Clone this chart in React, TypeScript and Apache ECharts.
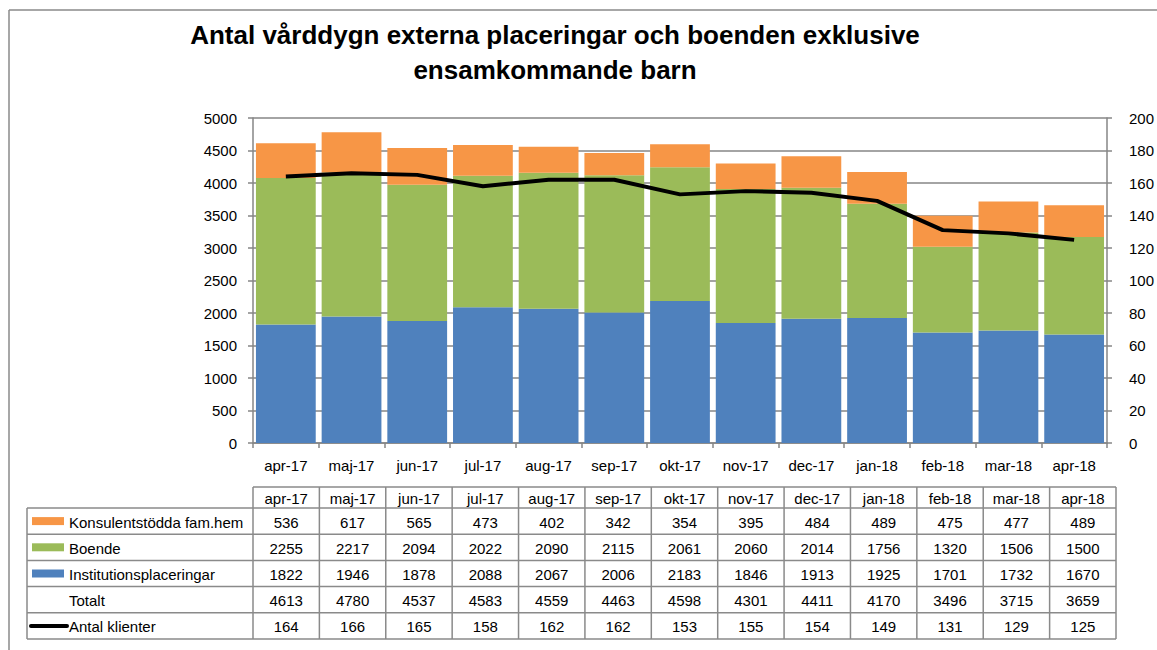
import React, { useEffect, useRef } from "react";
import * as echarts from "echarts";

const categories = ["apr-17", "maj-17", "jun-17", "jul-17", "aug-17", "sep-17", "okt-17", "nov-17", "dec-17", "jan-18", "feb-18", "mar-18", "apr-18"];
const konsulent = [536, 617, 565, 473, 402, 342, 354, 395, 484, 489, 475, 477, 489];
const boende = [2255, 2217, 2094, 2022, 2090, 2115, 2061, 2060, 2014, 1756, 1320, 1506, 1500];
const institution = [1822, 1946, 1878, 2088, 2067, 2006, 2183, 1846, 1913, 1925, 1701, 1732, 1670];
const totalt = [4613, 4780, 4537, 4583, 4559, 4463, 4598, 4301, 4411, 4170, 3496, 3715, 3659];
const klienter = [164, 166, 165, 158, 162, 162, 153, 155, 154, 149, 131, 129, 125];

const titleLines = ["Antal vårddygn externa placeringar och boenden exklusive", "ensamkommande barn"];
const seriesNames = ["Konsulentstödda fam.hem", "Boende", "Institutionsplaceringar", "Totalt", "Antal klienter"];

const C_ORANGE = "#F79646";
const C_GREEN = "#9BBB59";
const C_BLUE = "#4F81BD";
const AXIS = "#868686";
const FONT = "'Liberation Sans', Arial, sans-serif";

export default function App() {
  const ref = useRef<HTMLDivElement>(null);
  useEffect(() => {
    if (!ref.current) return;
    const chart = echarts.init(ref.current, null, { renderer: "svg" });
    const gridLeft = 253;
    const gridRight = 1116;
    const gridTop = 118;
    const gridBottom = 443;
    const colW = (gridRight - gridLeft) / categories.length;
    const tableLeft = 27;
    const headerTop = 487;
    const rowH = 26.2;
    const rowsTop = headerTop + 21;

    const g: any[] = [];
    g.push({ type: "line", shape: { x1: 9, y1: 10, x2: 1157, y2: 10 }, style: { stroke: "#8a8a8a", lineWidth: 1.5 } });
    g.push({ type: "line", shape: { x1: 9, y1: 10, x2: 9, y2: 650 }, style: { stroke: "#8a8a8a", lineWidth: 1.5 } });
    titleLines.forEach((t, i) => {
      g.push({
        type: "text",
        x: 555,
        y: 35 + i * 35,
        style: { text: t, fontSize: 26, fontWeight: "bold", fontFamily: FONT, fill: "#000", align: "center", verticalAlign: "middle" },
      });
    });
    const lineStyle = { stroke: "#8a8a8a", lineWidth: 1.5 };
    const nRows = seriesNames.length;
    const tableBottom = rowsTop + nRows * rowH;
    g.push({ type: "line", shape: { x1: gridLeft, y1: headerTop, x2: gridRight, y2: headerTop }, style: lineStyle });
    for (let r = 0; r <= nRows; r++) {
      const y = rowsTop + r * rowH;
      g.push({ type: "line", shape: { x1: tableLeft, y1: y, x2: gridRight, y2: y }, style: lineStyle });
    }
    g.push({ type: "line", shape: { x1: tableLeft, y1: rowsTop, x2: tableLeft, y2: tableBottom }, style: lineStyle });
    for (let c = 0; c <= categories.length; c++) {
      const x = gridLeft + c * colW;
      g.push({ type: "line", shape: { x1: x, y1: headerTop, x2: x, y2: tableBottom }, style: lineStyle });
    }
    categories.forEach((cat, c) => {
      g.push({
        type: "text",
        x: gridLeft + (c + 0.5) * colW,
        y: (headerTop + rowsTop) / 2 + 1,
        style: { text: cat, fontSize: 15, fontFamily: FONT, fill: "#000", align: "center", verticalAlign: "middle" },
      });
    });
    const rowData = [konsulent, boende, institution, totalt, klienter];
    const swatch = [C_ORANGE, C_GREEN, C_BLUE, null, "line"];
    rowData.forEach((arr, r) => {
      const cy = rowsTop + (r + 0.5) * rowH + 1;
      g.push({
        type: "text",
        x: 69,
        y: cy,
        style: { text: seriesNames[r], fontSize: 15, fontFamily: FONT, fill: "#000", align: "left", verticalAlign: "middle" },
      });
      const sw = swatch[r];
      if (sw === "line") {
        g.push({ type: "line", shape: { x1: 31, y1: cy - 1, x2: 67, y2: cy - 1 }, style: { stroke: "#000", lineWidth: 4, lineCap: "round" } });
      } else if (sw) {
        g.push({ type: "rect", shape: { x: 32, y: cy - 5, width: 32, height: 8 }, style: { fill: sw } });
      }
      arr.forEach((v, c) => {
        g.push({
          type: "text",
          x: gridLeft + (c + 0.5) * colW,
          y: cy,
          style: { text: String(v), fontSize: 15, fontFamily: FONT, fill: "#000", align: "center", verticalAlign: "middle" },
        });
      });
    });

    chart.setOption({
      animation: false,
      backgroundColor: "#fff",
      textStyle: { fontFamily: FONT },
      grid: { left: gridLeft, right: 1157 - gridRight, top: gridTop, bottom: 650 - gridBottom, containLabel: false },
      xAxis: {
        type: "category",
        data: categories,
        axisLine: { lineStyle: { color: AXIS, width: 1.5 } },
        axisTick: { show: true, length: 5, lineStyle: { color: AXIS, width: 1.5 } },
        axisLabel: { color: "#000", fontSize: 15, margin: 15, fontFamily: FONT },
      },
      yAxis: [
        {
          type: "value",
          min: 0,
          max: 5000,
          interval: 500,
          axisLine: { show: true, lineStyle: { color: AXIS, width: 1.5 } },
          axisTick: { show: true, length: 5, lineStyle: { color: AXIS, width: 1.5 } },
          axisLabel: { color: "#000", fontSize: 15, margin: 16, fontFamily: FONT, formatter: (v: number) => String(v) },
          splitLine: { show: true, lineStyle: { color: AXIS, width: 1.5 } },
        },
        {
          type: "value",
          min: 0,
          max: 200,
          interval: 20,
          position: "right",
          axisLine: { show: true, lineStyle: { color: AXIS, width: 1.5 } },
          axisTick: { show: true, length: 5, lineStyle: { color: AXIS, width: 1.5 } },
          axisLabel: { color: "#000", fontSize: 15, margin: 22, fontFamily: FONT, formatter: (v: number) => String(v) },
          splitLine: { show: false },
        },
      ],
      series: [
        { name: seriesNames[2], type: "bar", stack: "s", data: institution, itemStyle: { color: C_BLUE }, barCategoryGap: "9%" },
        { name: seriesNames[1], type: "bar", stack: "s", data: boende, itemStyle: { color: C_GREEN } },
        { name: seriesNames[0], type: "bar", stack: "s", data: konsulent, itemStyle: { color: C_ORANGE } },
        {
          name: seriesNames[4],
          type: "line",
          yAxisIndex: 1,
          data: klienter,
          symbol: "none",
          lineStyle: { color: "#000", width: 4 },
          itemStyle: { color: "#000" },
          z: 5,
        },
      ],
      graphic: g,
    });
    return () => chart.dispose();
  }, []);
  return <div ref={ref} style={{ position: "fixed", left: 0, top: 0, width: 1157, height: 650 }} />;
}
